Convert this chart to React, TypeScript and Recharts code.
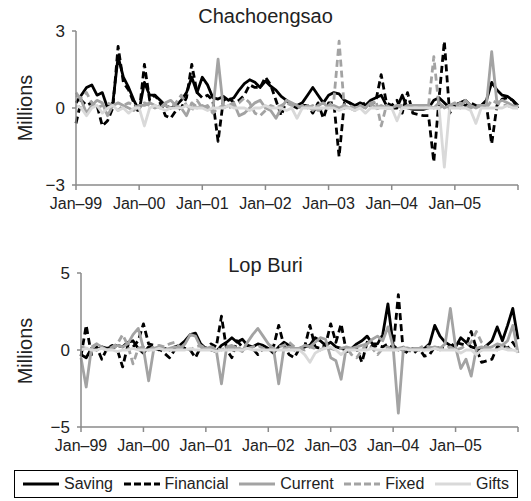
import React from "react";
import { LineChart, Line, XAxis, YAxis } from "recharts";

const FONT = '"Liberation Sans", Arial, Helvetica, sans-serif';

// month index from Jan-99 (0) to Jan-06 (84)
const months = Array.from({ length: 85 }, (_, i) => i);
const yearTicks = [0, 12, 24, 36, 48, 60, 72, 84];
const yearLabels = ["Jan–99", "Jan–00", "Jan–01", "Jan–02", "Jan–03", "Jan–04", "Jan–05", ""];

const seriesNames = ["Saving", "Financial", "Current", "Fixed", "Gifts"];

/* ── Chachoengsao ── */
const chaSaving = [
  0.2, 0.5, 0.8, 0.9, 0.5, 0.6, 0.0, 0.2, 2.0, 1.2,
  0.8, 0.3, -0.1, 1.0, 0.5, 0.5, 0.3, 0.1, 0.0, 0.1,
  0.3, 0.6, 1.2, 0.6, 1.2, 0.9, 0.4, 0.35, 0.45, 0.3,
  0.4, 0.7, 0.95, 1.1, 1.0, 0.8, 1.05, 0.85, 0.7, 0.45,
  0.3, 0.15, 0.1, 0.2, 0.5, 0.8, 0.5, 0.2, 0.5, 0.6,
  0.55, 0.3, 0.2, 0.1, 0.2, 0.1, 0.3, 0.4, 0.5, 0.1,
  0.0, 0.0, 0.5, 0.0, -0.05, -0.05, -0.05, 0.0, 0.3, 0.4,
  0.2, 0.0, 0.1, 0.2, 0.3, 0.1, 0.05, 0.1, 0.3, 1.0,
  0.7, 0.5, 0.45, 0.3, 0.1,
];
const chaFinancial = [
  -0.6, 0.3, 0.1, 0.2, 0.1, -0.7, -0.5, 0.0, 2.4, 1.0,
  0.7, 0.2, -0.2, 1.7, 0.3, 0.5, 0.2, -0.3, -0.4, -0.1,
  0.0, 0.4, 1.7, 0.6, 0.4, 0.5, 0.3, -1.3, 0.3, 0.4,
  0.2, 0.3, 0.5, 0.9, 0.8, 0.8, 1.2, 0.9, 0.3, -0.3,
  0.3, 0.1, 0.0, 0.1, 0.1, -0.2, 0.2, -0.4, 0.2, 0.2,
  -1.9, 0.2, 0.2, 0.05, 0.1, 0.2, 0.1, 0.3, 1.3, 0.2,
  0.1, 0.3, -0.2, 0.6, -0.2, -0.25, -0.3, -0.3, -2.1, 0.4,
  2.6, -0.2, 0.1, 0.2, 0.1, 0.2, 0.1, 0.1, 0.1, -1.4,
  0.1, 0.35, 0.4, 0.3, 0.0,
];
const chaCurrent = [
  0.6, 0.3, -0.2, 0.1, 0.3, 0.2, -0.3, 0.1, 0.2, 0.1,
  0.0, -0.1, 0.1, 0.1, 0.2, 0.1, 0.0, 0.2, 0.3, 0.1,
  0.0, -0.3, 0.2, 0.0, 0.1, 0.0, -0.1, 1.9, 0.0, 0.1,
  0.2, -0.3, -0.2, 0.0, 0.2, 0.3, 0.0, -0.1, -0.4, 0.0,
  0.3, 0.2, 0.1, 0.0, 0.1, -0.1, 0.1, 0.2, 0.0, 0.1,
  0.0, 0.1, 0.0, -0.1, 0.1, 0.0, 0.2, 0.0, 0.1, 0.0,
  0.0, 0.1, 0.0, 0.1, 0.1, 0.1, 0.1, 0.1, 0.0, 0.2,
  0.0, 0.1, 0.2, 0.0, 0.3, 0.1, 0.0, 0.1, 0.1, 2.2,
  0.2, 0.3, 0.2, 0.1, 0.0,
];
const chaFixed = [
  0.5, 0.4, 0.6, 0.2, 0.0, 0.1, 0.2, 0.1, -0.1, 0.1,
  0.2, 0.1, 0.0, 0.2, 0.1, 0.0, 0.1, 0.1, 0.0, 0.2,
  0.5, 0.1, -0.1, 0.3, 0.0, 0.1, -0.2, 0.0, 0.1, 0.0,
  0.1, 0.2, 0.4, 0.2, -0.2, -0.3, -0.1, 0.1, 0.0, 0.1,
  0.2, 0.1, 0.0, 0.1, 0.0, 0.1, -0.1, 0.0, 0.1, 0.3,
  2.6, 0.0, 0.1, 0.0, 0.1, 0.0, 0.1, 0.3, -0.7, 0.1,
  0.0, 0.1, 0.1, 0.1, 0.1, 0.1, 0.1, 0.1, 2.0, 0.0,
  0.1, 0.1, 0.0, 0.2, 0.1, 0.0, 0.1, 0.1, 0.0, 0.3,
  0.2, 0.1, 0.1, 0.0, 0.1,
];
const chaGifts = [
  0.1, 0.0, -0.3, 0.0, 0.1, -0.2, 0.0, 0.1, -0.1, 0.0,
  -0.2, 0.0, 0.0, -0.7, 0.0, 0.1, 0.0, -0.1, 0.0, 0.0,
  0.0, 0.1, 0.0, 0.0, 0.0, -0.1, 0.0, 0.0, 0.0, 0.1,
  0.0, 0.0, 0.0, -0.1, 0.0, 0.0, 0.1, 0.0, 0.0, 0.0,
  -0.1, 0.0, -0.4, 0.0, 0.0, 0.0, 0.0, 0.0, 0.0, 0.0,
  -0.1, 0.0, 0.0, -0.1, 0.0, -0.2, 0.0, 0.0, 0.0, 0.0,
  0.0, -0.5, 0.0, 0.0, 0.0, 0.0, 0.0, 0.0, 0.0, 0.0,
  -2.3, 0.0, 0.0, 0.0, 0.0, -0.1, -0.6, 0.0, 0.0, 0.0,
  0.0, 0.0, 0.1, 0.0, 0.0,
];

/* ── Lop Buri ── */
const lopSaving = [
  -0.3, -0.5, 0.1, 0.0, 0.2, 0.1, 0.2, 0.3, 0.2, 0.5,
  0.6, 0.1, -0.2, 0.2, 0.1, 0.0, 0.1, 0.0, 0.2, 0.3,
  0.6, 1.0, 1.1, 0.4, 0.1, 0.0, -0.1, 0.3, 0.5, 0.8,
  0.5, 0.7, 0.3, 0.2, 0.4, 0.3, 0.1, -0.2, 0.2, 0.5,
  0.3, 0.0, 0.1, 0.2, 0.3, 0.8, 0.6, 0.3, 0.5, 0.2,
  0.1, 0.0, 0.1, 0.4, 0.6, 0.9, 0.4, 0.4, 1.0, 3.0,
  0.3, 0.0, 0.1, 0.0, 0.1, 0.0, 0.1, 0.4, 1.6, 0.9,
  0.5, 0.3, 0.2, 0.8, 0.5, 0.2, 0.1, 0.0, 0.3, 0.6,
  1.5, 0.6, 1.6, 2.7, 0.7,
];
const lopFinancial = [
  -0.4, 1.6, -0.3, 0.2, -0.6, 0.1, 0.3, 0.0, -1.1, 0.3,
  0.2, 0.6, 1.7, 0.4, 0.3, 0.1, -0.2, -0.5, 0.0, 0.3,
  0.1, 0.0, -0.5, 0.2, 0.1, 0.4, 0.2, 2.2, 0.0, -0.5,
  0.6, 0.2, 0.3, 0.1, -0.3, 0.1, 0.3, 0.2, 1.6, 0.3,
  -0.3, -0.5, 0.1, 0.2, 1.6, 0.2, 0.1, 0.3, 1.7, 0.5,
  1.7, -0.1, 0.0, 0.1, -0.8, 0.5, 0.2, 0.3, 0.2, 0.4,
  0.1, 3.6, -0.3, 0.0, -0.2, 0.1, -0.4, -0.3, 0.2, 0.1,
  0.1, 0.2, 0.5, 0.4, 0.3, 1.2, 0.1, -0.8, -0.7, -0.6,
  0.2, 0.3, 0.1, 0.5, 0.0,
];
const lopCurrent = [
  -0.5, -2.4, 0.1, 0.4, 0.2, 0.0, 0.1, 0.3, 0.2, 0.4,
  1.0, 1.4, 0.1, -2.0, 0.1, 0.2, 0.0, 0.1, 0.2, 0.1,
  0.4, 1.0, 0.9, 0.2, 0.1, 0.1, 0.0, -2.2, 0.2, 0.3,
  0.1, -0.1, 0.5, 1.0, 1.4, 0.9, 0.4, 0.1, -2.2, 0.1,
  0.2, 0.1, 0.1, 0.3, 0.2, 0.5, 0.8, 0.7, -0.5, -0.7,
  -1.9, 0.2, 0.1, 0.2, 0.3, 0.4, 0.7, 0.9, 0.6, 1.5,
  0.2, -4.1, 0.2, 0.0, 0.1, 0.1, 0.0, 0.1, 0.2, 0.1,
  0.4, 2.7, 0.2, -1.2, -0.6, -1.7, 0.1, 0.2, 0.1, 0.2,
  0.4, 0.3, 0.6, 1.6, -0.2,
];
const lopFixed = [
  0.2, 0.1, 0.2, 0.4, 0.1, 0.0, 0.2, 0.4, 1.0, 0.3,
  -0.9, 0.1, 0.2, 0.0, 0.2, 0.3, 0.2, 0.4, 0.5, 0.2,
  0.1, 0.0, 0.2, 0.3, 0.1, 0.2, 0.1, 0.0, 0.2, 0.1,
  0.2, 0.0, 0.1, 0.2, 0.3, 0.1, 0.0, 0.1, 0.2, 0.3,
  0.5, 0.2, 0.1, 0.0, 0.2, 0.1, 0.0, 0.2, 0.1, 0.0,
  0.1, 0.2, -0.3, -0.5, 0.0, 0.4, 0.1, -0.3, 0.1, 0.2,
  0.0, 0.1, 0.2, 0.1, 0.0, 0.1, 0.3, 0.2, 0.1, 0.0,
  0.1, 0.2, 0.0, 0.1, 0.3, 0.5, 1.2, 0.5, 0.2, 0.1,
  0.0, 0.2, 0.1, 0.0, 0.1,
];
const lopGifts = [
  0.0, 0.1, 0.0, 0.0, 0.1, 0.0, 0.0, -0.1, 0.0, 0.0,
  0.1, 0.0, 0.0, 0.0, 0.0, 0.1, 0.0, 0.0, 0.0, 0.0,
  0.0, 0.1, 0.0, 0.0, 0.0, 0.0, -0.1, 0.0, 0.0, 0.0,
  0.0, 0.0, 0.1, 0.0, 0.0, 0.0, 0.0, 0.0, 0.0, 0.0,
  0.0, 0.0, 0.0, -0.3, -0.8, -0.2, 0.0, 0.1, 0.2, 0.0,
  -0.3, 0.0, 0.0, 0.0, 0.0, 0.0, 0.1, 0.0, 0.0, 0.0,
  0.0, 0.0, 0.1, 0.0, 0.0, 0.0, 0.0, 0.0, 0.1, 0.0,
  0.0, 0.0, 0.0, -0.2, 0.0, 0.0, -0.3, 0.0, 0.0, 0.0,
  0.0, 0.1, 0.0, 0.0, -0.1,
];

const styles = [
  { key: "saving", color: "#000000", dash: undefined as string | undefined },
  { key: "financial", color: "#000000", dash: "7 4" },
  { key: "current", color: "#a3a3a3", dash: undefined },
  { key: "fixed", color: "#a3a3a3", dash: "7 4" },
  { key: "gifts", color: "#d9d9d9", dash: undefined },
];

function buildRows(cols: number[][]) {
  return months.map((m, i) => ({
    m,
    saving: cols[0][i],
    financial: cols[1][i],
    current: cols[2][i],
    fixed: cols[3][i],
    gifts: cols[4][i],
  }));
}

const chaRows = buildRows([chaSaving, chaFinancial, chaCurrent, chaFixed, chaGifts]);
const lopRows = buildRows([lopSaving, lopFinancial, lopCurrent, lopFixed, lopGifts]);

const AXIS = "#8a8a8a";
const INK = "#222";

const fmtY = (v: number) => (v < 0 ? `\u2212${-v}` : String(v));
const fmtX = (v: number) => yearLabels[yearTicks.indexOf(v)] ?? "";

interface PanelProps {
  rows: any[];
  top: number;
  height: number;
  marginTop: number;
  yAxisWidth: number;
  yLim: number;
  title: string;
  titleY: number;
  labelY: number;
}

function Panel({ rows, top, height, marginTop, yAxisWidth, yLim, title, titleY, labelY }: PanelProps) {
  return (
    <div style={{ position: "absolute", left: 0, top, width: 531, height }}>
      <div
        style={{
          position: "absolute",
          left: 0,
          width: 531,
          top: titleY - 12,
          textAlign: "center",
          fontSize: 20,
          lineHeight: "24px",
          color: INK,
        }}
      >
        {title}
      </div>
      <LineChart
        width={531}
        height={height}
        data={rows}
        margin={{ top: marginTop, right: 13, bottom: 0, left: 0 }}
      >
        <XAxis
          dataKey="m"
          type="number"
          domain={[0, 84]}
          ticks={yearTicks}
          interval={0}
          tickFormatter={fmtX}
          height={height - marginTop - 154}
          stroke={AXIS}
          strokeWidth={1.5}
          tickSize={5}
          tickMargin={8}
          tick={{ fill: INK, fontSize: 16, fontFamily: FONT }}
        />
        <YAxis
          type="number"
          domain={[-yLim, yLim]}
          ticks={[-yLim, 0, yLim]}
          width={yAxisWidth}
          tickFormatter={fmtY}
          stroke={AXIS}
          strokeWidth={1.5}
          tickSize={4}
          tickMargin={7}
          tick={{ fill: INK, fontSize: 17, fontFamily: FONT }}
          label={{
            content: () => (
              <text
                x={25}
                y={labelY}
                transform={`rotate(-90 25 ${labelY})`}
                textAnchor="middle"
                dominantBaseline="central"
                fontSize={20}
                fontFamily={FONT}
                fill={INK}
              >
                Millions
              </text>
            ),
          }}
        />
        {styles.map((s, i) => (
          <Line
            key={s.key}
            dataKey={s.key}
            name={seriesNames[i]}
            type="linear"
            stroke={s.color}
            strokeWidth={2.8}
            strokeDasharray={s.dash}
            strokeLinejoin="round"
            dot={false}
            activeDot={false}
            isAnimationActive={false}
          />
        ))}
      </LineChart>
    </div>
  );
}

function LegendBox() {
  return (
    <div
      style={{
        position: "absolute",
        left: 14,
        top: 470,
        width: 504,
        height: 28,
        border: "1px solid #000",
        display: "flex",
        alignItems: "center",
        justifyContent: "space-between",
        padding: "0 8px",
        boxSizing: "border-box",
        fontSize: 16,
        color: INK,
      }}
    >
      {styles.map((s, i) => (
        <div key={s.key} style={{ display: "flex", alignItems: "center" }}>
          <svg width={36} height={6} style={{ marginRight: 5 }}>
            <line
              x1={0}
              y1={3}
              x2={36}
              y2={3}
              stroke={s.color}
              strokeWidth={2.8}
              strokeDasharray={s.dash ? "7 3" : undefined}
            />
          </svg>
          <span>{seriesNames[i]}</span>
        </div>
      ))}
    </div>
  );
}

export default function App() {
  return (
    <div
      style={{
        position: "absolute",
        left: 0,
        top: 0,
        width: 531,
        height: 501,
        background: "#fff",
        fontFamily: FONT,
        overflow: "hidden",
      }}
    >
      <Panel
        rows={chaRows}
        top={0}
        height={215}
        marginTop={31}
        yAxisWidth={76}
        yLim={3}
        title="Chachoengsao"
        titleY={16}
        labelY={108}
      />
      <Panel
        rows={lopRows}
        top={230}
        height={230}
        marginTop={43}
        yAxisWidth={81}
        yLim={5}
        title="Lop Buri"
        titleY={35}
        labelY={121}
      />
      <LegendBox />
    </div>
  );
}
